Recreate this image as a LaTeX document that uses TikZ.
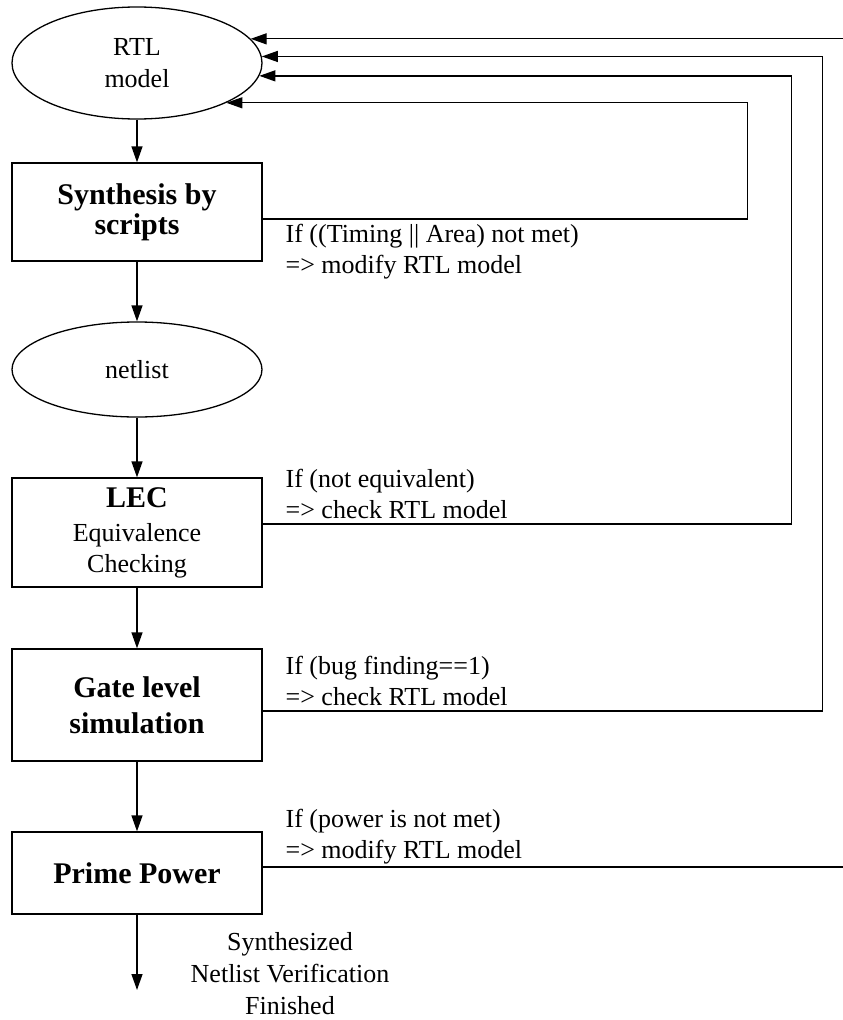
\documentclass[tikz,border=0pt]{standalone}
\usepackage{fontspec}
\setmainfont{Liberation Serif}
\usetikzlibrary{shapes.geometric, positioning, arrows.meta}

\begin{document}
\begin{tikzpicture}[%
    x=1pt, y=-1pt,
    >={Triangle[length=16pt, width=11pt]},
    on grid,
    line width=1.3pt,
    oval/.style={draw, ellipse, minimum width=250pt, inner sep=0pt, align=center,
      font=\fontsize{26}{32}\selectfont},
    blk/.style={draw, rectangle, minimum width=250pt, inner sep=0pt, align=center,
      font=\fontsize{30}{36}\selectfont\bfseries},
    note/.style={anchor=west, align=left, inner sep=0pt,
      font=\fontsize{26}{31}\selectfont}
  ]

  \useasboundingbox (0,0) rectangle (843,1020);
  \clip (0,0) rectangle (843,1020);

  \node[oval, minimum height=112pt] (rtl) at (137,63) {RTL\\model};
  \node[blk, minimum height=98pt, font=\fontsize{30}{30}\selectfont\bfseries] (syn) [below=149pt of rtl] {Synthesis by\\scripts};
  \node[oval, minimum height=95pt] (net) [below=157.5pt of syn] {netlist};
  \node[blk, minimum height=109pt, font=\fontsize{26}{31}\selectfont] (lec) [below=163pt of net]
    {{\fontsize{30}{31}\selectfont\bfseries LEC}\\[3pt]Equivalence\\Checking};
  \node[blk, minimum height=112pt] (gate) [below=172.5pt of lec] {Gate level\\simulation};
  \node[blk, minimum height=82pt] (pp) [below=168pt of gate] {Prime Power};
  \coordinate (done) at (137,990);

  \draw[->] (rtl) -- (syn);
  \draw[->] (syn) -- (net);
  \draw[->] (net) -- (lec);
  \draw[->] (lec) -- (gate);
  \draw[->] (gate) -- (pp);
  \draw[->] (pp) -- (done);

  % loops back to the RTL model
  \draw[->] ([yshift=-7pt]syn.east) -- ++(485,0) |- (rtl.-24);
  \draw[->] ([yshift=8.5pt]lec.east) -- ++(529,0) |- (rtl.-6);
  \draw[->] ([yshift=-6pt]gate.east) -- ++(560,0) |- (rtl.3);
  \draw[->] ([yshift=6pt]pp.east) -- ++(600,0) |- (rtl.12);

  \node[note] (synnote) at (285,252) {If ((Timing || Area) not met)\\=> modify RTL model};
  \node[note] (lecnote) at (285,493.5) {If (not equivalent)\\=> check RTL model};
  \node[note] (gatenote) at (285,680.5) {If (bug finding==1)\\=> check RTL model};
  \node[note] (ppnote) at (285,836.5) {If (power is not met)\\=> modify RTL model};
  \node[align=center, font=\fontsize{26}{32}\selectfont] (endnote) at (290,974)
    {Synthesized\\Netlist Verification\\Finished};
\end{tikzpicture}
\end{document}
